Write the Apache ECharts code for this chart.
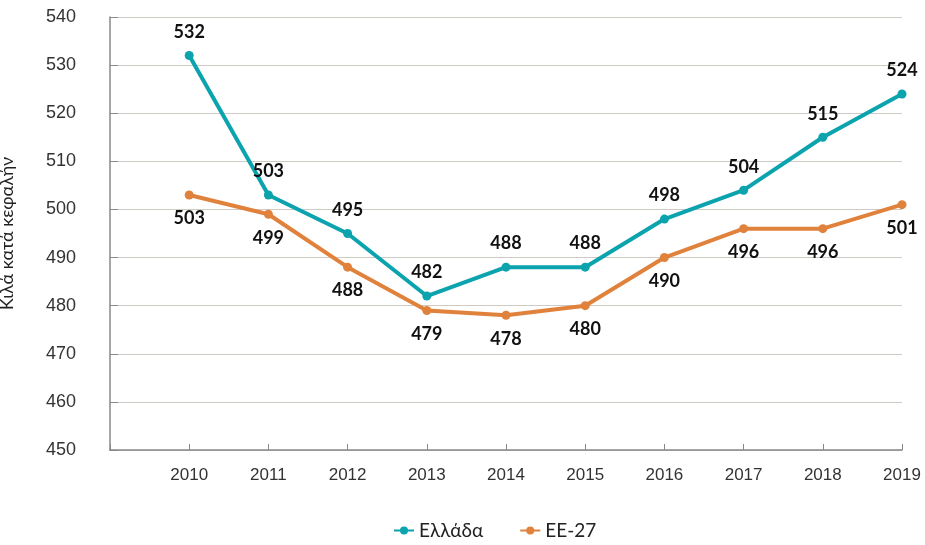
<!DOCTYPE html>
<html>
<head>
<meta charset="utf-8">
<script src="https://cdn.jsdelivr.net/npm/echarts@6/dist/echarts.min.js"></script>
<style>
  html, body { margin: 0; padding: 0; background: #fff; }
  #chart { width: 925px; height: 545px; }
</style>
</head>
<body>
<div id="chart"></div>
<script>
// κατηγορίες (η πρώτη κενή για το κενό αριστερά)
var years = ['', '2010', '2011', '2012', '2013', '2014', '2015', '2016', '2017', '2018', '2019'];
var greece = ['-', 532, 503, 495, 482, 488, 488, 498, 504, 515, 524];
var eu27 = ['-', 503, 499, 488, 479, 478, 480, 490, 496, 496, 501];

var myChart = echarts.init(document.getElementById('chart'));

var labelFont = {
    show: true,
    color: '#111',
    fontSize: 18,
    fontWeight: 'bold',
    fontFamily: 'Lato',
    distance: 10
};

var option = {
    animation: false,
    grid: {
        left: 110,
        right: 23,
        top: 17,
        bottom: 95,
        outerBoundsMode: 'none'
    },
    legend: {
        bottom: 0,
        left: 388,
        itemWidth: 20,
        itemHeight: 10,
        itemGap: 36,
        textStyle: { fontFamily: 'Lato', fontSize: 19, color: '#222' },
        data: ['Ελλάδα', 'ΕΕ-27']
    },
    xAxis: {
        type: 'category',
        data: years,
        boundaryGap: false,
        axisLine: { lineStyle: { color: '#888', width: 1.5 } },
        axisTick: { inside: true, length: 6, lineStyle: { color: '#888' } },
        axisLabel: { color: '#333', fontSize: 17, fontFamily: 'Liberation Sans', margin: 17 },
        splitLine: { show: false }
    },
    yAxis: {
        type: 'value',
        min: 450,
        max: 540,
        interval: 10,
        name: 'Κιλά κατά κεφαλήν',
        nameLocation: 'middle',
        nameGap: 94,
        nameTextStyle: { fontFamily: 'Lato', fontSize: 18, color: '#222' },
        axisLine: { show: true, lineStyle: { color: '#888', width: 1.5 } },
        axisTick: { show: true, inside: true, length: 8, lineStyle: { color: '#888' } },
        axisLabel: { color: '#333', fontSize: 18, fontFamily: 'Liberation Sans', margin: 34 },
        splitLine: { lineStyle: { color: '#cfcac4', width: 1 } }
    },
    series: [
        {
            name: 'Ελλάδα',
            type: 'line',
            data: greece,
            color: '#0ba3ad',
            symbol: 'circle',
            symbolSize: 9,
            lineStyle: { width: 4 },
            label: Object.assign({ position: 'top' }, labelFont)
        },
        {
            name: 'ΕΕ-27',
            type: 'line',
            data: eu27,
            color: '#e0823c',
            symbol: 'circle',
            symbolSize: 9,
            lineStyle: { width: 4 },
            label: Object.assign({ position: 'bottom' }, labelFont)
        }
    ]
};

myChart.setOption(option);
</script>
</body>
</html>
